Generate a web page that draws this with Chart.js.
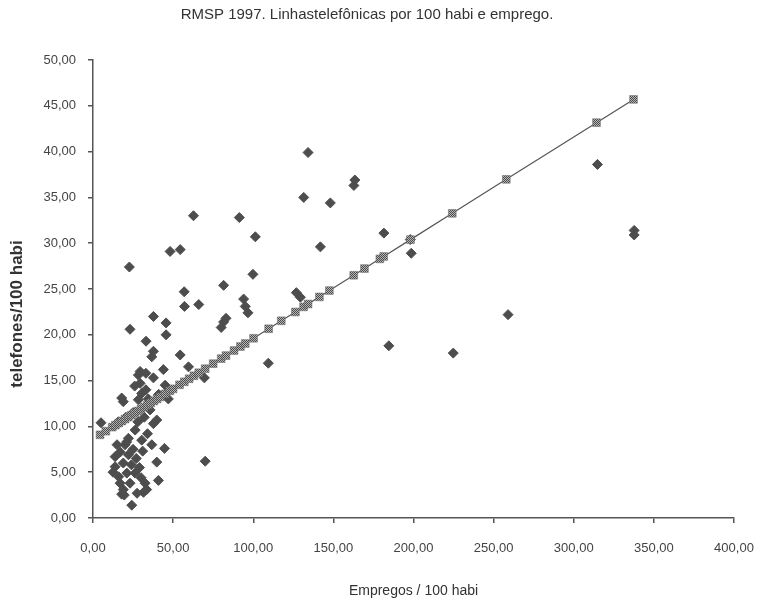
<!DOCTYPE html>
<html>
<head>
<meta charset="utf-8">
<script src="https://cdn.jsdelivr.net/npm/chart.js@4"></script>
<style>
  body { margin: 0; background: #fff; }
  #wrap { width: 761px; height: 604px; }
</style>
</head>
<body>
<div id="wrap"><canvas id="chart"></canvas></div>
<script>
// Empregos / 100 habi (x) e telefones / 100 habi (y)
const empregos = [
  5.0, 22.7, 23.1, 33.1, 37.7, 45.6, 45.6, 48.1, 54.4, 56.9, 57.1, 62.7, 66.0,
  80.0, 81.5, 83.0, 81.5, 91.3, 94.0, 95.0, 96.7, 99.8, 101.3, 109.4, 126.9,
  129.4, 131.5, 134.2, 141.9, 148.1, 162.8, 163.4, 181.5, 184.6, 198.6, 198.0,
  224.8, 259.0, 314.8, 337.7, 337.7, 70.0, 54.4, 59.6, 43.9, 29.4, 37.7, 36.7,
  69.5,
  28.3, 37.7, 45.0, 29.4, 18.9, 17.9, 28.3, 30.4, 33.0, 15.8, 35.6, 37.7, 39.8,
  26.3, 22.1, 30.4, 25.0, 32.0, 36.7, 44.6, 39.8, 40.8, 13.8, 13.8, 18.9, 22.1,
  21.1, 26.3, 16.9, 18.9, 23.1, 17.9, 32.5, 33.5, 31.5, 24.2, 15.0, 17.0, 20.0,
  25.0, 27.0, 29.0, 24.0, 12.5, 16.0, 19.5, 28.0, 20.5, 34.0, 31.0, 30.0, 27.5,
  26.0, 34.5, 41.0, 47.0, 21.0, 33.0
];
const telefones = [
  10.4, 27.4, 20.6, 19.3, 22.0, 21.3, 20.0, 29.1, 29.3, 24.7, 23.1, 33.0, 23.3,
  20.8, 21.4, 21.8, 25.4, 32.8, 23.9, 23.1, 22.4, 26.6, 30.7, 16.9, 24.6,
  24.1, 35.0, 39.9, 29.6, 34.4, 36.3, 36.9, 31.1, 18.8, 28.9, 30.4,
  18.0, 22.2, 38.6, 31.4, 30.9, 6.2, 17.8, 16.5, 16.2, 16.0, 18.2, 17.6,
  15.3,
  15.6, 15.3, 14.5, 14.7, 12.7, 13.1, 12.9, 13.6, 14.0, 10.5, 11.8, 10.3, 10.7,
  9.6, 8.7, 8.5, 11.5, 11.0, 8.0, 7.6, 6.1, 4.1, 6.7, 5.6, 6.0, 6.9,
  4.9, 4.9, 3.8, 3.1, 3.8, 2.6, 3.8, 3.1, 2.8, 1.4, 8.0, 7.2, 8.0,
  7.5, 6.5, 5.5, 5.8, 5.0, 4.5, 2.5, 10.5, 11.0, 9.2, 7.3, 4.4, 2.7,
  14.4, 13.0, 13.5, 13.0, 8.3, 15.8
];

// Reta de regressão (pontos quadrados sobre a linha)
const retaX = [
  4.4, 8, 12, 14, 16, 18, 20, 22, 24, 26, 28, 30, 32, 34, 36, 38, 40, 42, 45, 48,
  50, 54, 57, 60, 63, 66, 70, 75, 80, 83, 88, 92, 95, 100.2, 109.6, 117.5, 126.3,
  131.4, 134.2, 141.3, 147.5, 162.7, 169.4, 179.0, 181.4, 198.1, 224.2, 257.9,
  314.2, 337.3
];
const retaY = [
  9.08, 9.48, 9.92, 10.14, 10.36, 10.58, 10.80, 11.02, 11.24, 11.46, 11.68, 11.90,
  12.12, 12.34, 12.56, 12.78, 13.00, 13.22, 13.55, 13.88, 14.10, 14.54, 14.87,
  15.20, 15.53, 15.86, 16.30, 16.85, 17.40, 17.73, 18.28, 18.72, 19.05, 19.62,
  20.66, 21.53, 22.49, 23.05, 23.36, 24.14, 24.83, 26.50, 27.23, 28.29, 28.55,
  30.39, 33.26, 36.97, 43.16, 45.70
];

const titulo = 'RMSP 1997. Linhastelefônicas por 100 habi e emprego.';
const tituloX = 'Empregos / 100 habi';
const tituloY = 'telefones/100 habi';

const fmt = v => v.toFixed(2).replace('.', ',');

// textura quadriculada dos marcadores da reta
const pat = document.createElement('canvas');
pat.width = 2; pat.height = 2;
const pctx = pat.getContext('2d');
pctx.fillStyle = '#b8b8b8'; pctx.fillRect(0, 0, 2, 2);
pctx.fillStyle = '#4a4a4a'; pctx.fillRect(0, 0, 1, 1); pctx.fillRect(1, 1, 1, 1);
const hatch = pctx.createPattern(pat, 'repeat');

const pontos = empregos.map((x, i) => ({ x: x, y: telefones[i] }));
const reta = retaX.map((x, i) => ({ x: x, y: retaY[i] }));

// título do eixo y, desenhado fora do centro como no original
const yTitlePlugin = {
  id: 'yTitle',
  afterDraw(chart) {
    const ctx = chart.ctx;
    ctx.save();
    ctx.translate(17, 314);
    ctx.rotate(-Math.PI / 2);
    ctx.font = 'bold 17px "Liberation Sans", Arial, sans-serif';
    ctx.fillStyle = '#333';
    ctx.textAlign = 'center';
    ctx.textBaseline = 'middle';
    ctx.fillText(tituloY, 0, 0);
    ctx.restore();
  }
};

Chart.defaults.font.family = '"Liberation Sans", Arial, sans-serif';
Chart.defaults.color = '#444';

new Chart(document.getElementById('chart'), {
  type: 'scatter',
  data: {
    datasets: [
      {
        label: 'reta',
        data: reta,
        showLine: true,
        borderColor: '#555',
        borderWidth: 1.2,
        pointStyle: 'rect',
        pointRadius: 5.5,
        pointBackgroundColor: hatch,
        pointBorderColor: '#666',
        pointBorderWidth: 0.5
      },
      {
        label: 'municípios',
        data: pontos,
        pointStyle: 'rectRot',
        pointRadius: 5,
        backgroundColor: '#4d4d4d',
        borderColor: '#4d4d4d',
        borderWidth: 1
      }
    ]
  },
  options: {
    responsive: true,
    maintainAspectRatio: false,
    animation: false,
    layout: { padding: { left: 0, right: 27, top: 0, bottom: 0 } },
    plugins: {
      legend: { display: false },
      tooltip: { enabled: false },
      title: {
        display: true,
        text: titulo,
        color: '#333',
        font: { size: 15, weight: 'normal' },
        padding: { top: 6, bottom: 36 }
      }
    },
    scales: {
      x: {
        type: 'linear',
        min: 0,
        max: 400,
        afterFit: s => { s.height = 86; s.paddingLeft = 0; s.paddingRight = 0; },
        ticks: { stepSize: 50, callback: v => fmt(v), padding: 18, font: { size: 13 }, maxRotation: 0 },
        grid: { drawOnChartArea: false, tickLength: 5, color: '#555', lineWidth: 1.5 },
        border: { color: '#555', width: 1.5 },
        title: { display: true, text: tituloX, color: '#333', font: { size: 14 }, padding: { top: 0, bottom: 4 } }
      },
      y: {
        type: 'linear',
        min: 0,
        max: 50,
        afterFit: s => { s.width = 93; },
        ticks: { stepSize: 5, callback: v => fmt(v), padding: 12, font: { size: 13 } },
        grid: { drawOnChartArea: false, tickLength: 5, color: '#555', lineWidth: 1.5 },
        border: { color: '#555', width: 1.5 }
      }
    }
  },
  plugins: [yTitlePlugin]
});
</script>
</body>
</html>
